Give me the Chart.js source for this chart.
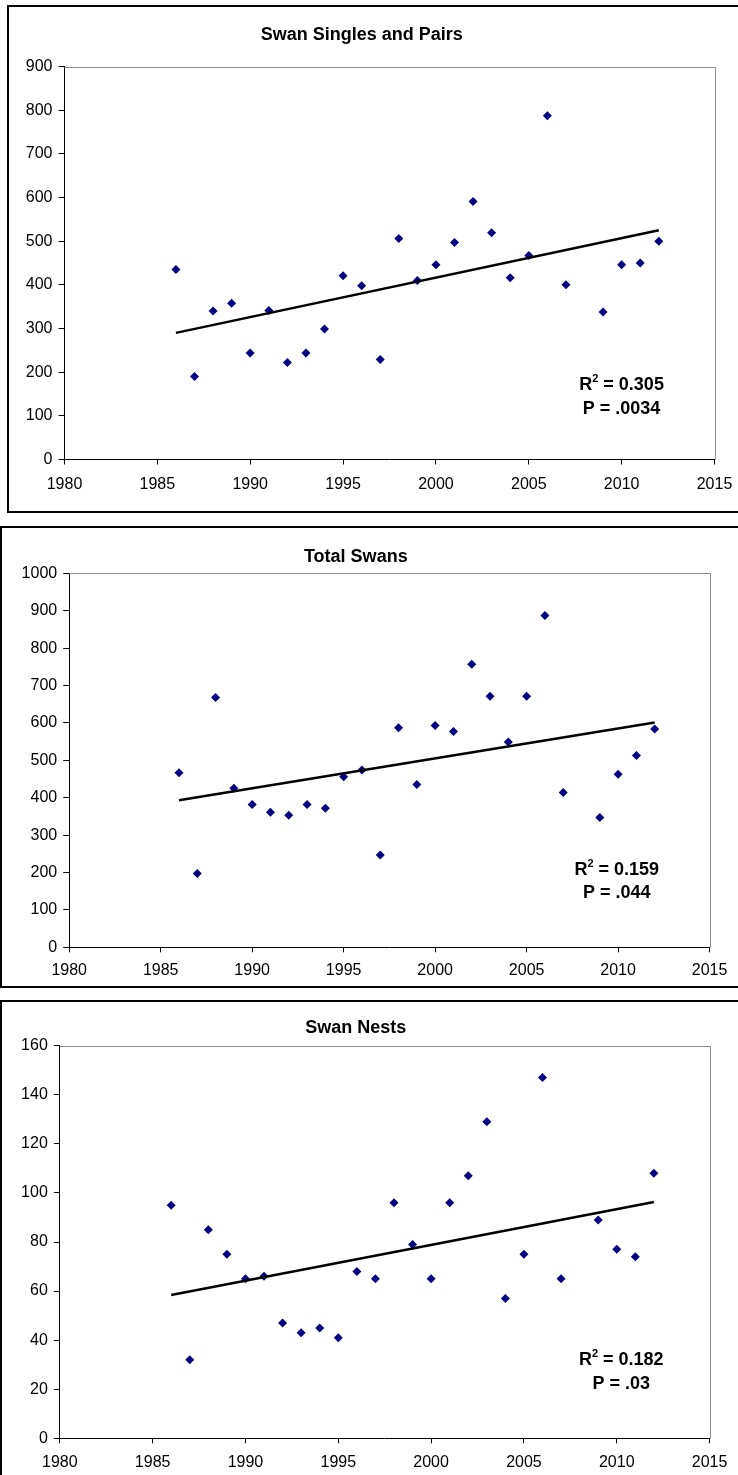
<!DOCTYPE html>
<html>
<head>
<meta charset="utf-8">
<script src="https://cdn.jsdelivr.net/npm/chart.js@4.4.1/dist/chart.umd.min.js"></script>
<style>
  html, body { margin: 0; padding: 0; background: #fff; }
  body { width: 738px; height: 1475px; overflow: hidden; position: relative; }
  .box { position: absolute; border: 2px solid #000; background: #fff; }
  .box div { position: relative; width: 740px; }
</style>
</head>
<body>
<div class="box" style="left:7px; top:5px;"><div style="height:504px;"><canvas id="c1"></canvas></div></div>
<div class="box" style="left:0px; top:526px;"><div style="height:458px;"><canvas id="c2"></canvas></div></div>
<div class="box" style="left:0px; top:1000px;"><div style="height:474px;"><canvas id="c3"></canvas></div></div>
<script>
// survey years (no count in 2008)
const years = [1986, 1987, 1988, 1989, 1990, 1991, 1992, 1993, 1994, 1995, 1996, 1997, 1998,
               1999, 2000, 2001, 2002, 2003, 2004, 2005, 2006, 2007, 2009, 2010, 2011, 2012];

const singlesPairs = [435, 190, 340, 358, 244, 341, 222, 244, 299, 421, 398, 229, 506,
                      410, 446, 497, 591, 519, 416, 467, 787, 400, 338, 446, 450, 500];
const totalSwans = [467, 197, 668, 425, 382, 361, 353, 382, 372, 456, 474, 247, 587,
                    435, 593, 577, 757, 671, 549, 671, 887, 414, 347, 463, 513, 584];
const swanNests = [95, 32, 85, 75, 65, 66, 47, 43, 45, 41, 68, 65, 96,
                   79, 65, 96, 107, 129, 57, 75, 147, 65, 89, 77, 74, 108];

// linear trend lines, end points
const trendYears = [1986, 2012];
const singlesTrend = [290, 525];
const totalTrend = [393, 601];
const nestsTrend = [58.4, 96.3];

const xTicks = [1980, 2015, 5];

const FONT = '"Liberation Sans", Arial, sans-serif';

// grey plot frame on top/right and the R²/P text box
const framePlugin = {
  id: 'frame',
  beforeDatasetsDraw(chart) {
    const a = chart.chartArea, ctx = chart.ctx;
    ctx.save();
    ctx.strokeStyle = '#8c8c8c';
    ctx.lineWidth = 1;
    ctx.beginPath();
    ctx.moveTo(a.left, Math.round(a.top) + 0.5);
    ctx.lineTo(Math.round(a.right) + 0.5, Math.round(a.top) + 0.5);
    ctx.lineTo(Math.round(a.right) + 0.5, a.bottom);
    ctx.stroke();
    ctx.restore();
  },
  afterDatasetsDraw(chart, args, opts) {
    const a = chart.chartArea, ctx = chart.ctx;
    const cx = a.left + opts.fx * (a.right - a.left);
    const y1 = a.top + opts.fy1 * (a.bottom - a.top);
    const y2 = a.top + opts.fy2 * (a.bottom - a.top);
    ctx.save();
    ctx.fillStyle = '#000';
    ctx.textBaseline = 'middle';
    ctx.textAlign = 'left';
    const big = 'bold 18px ' + FONT, small = 'bold 11px ' + FONT;
    ctx.font = big;
    const wR = ctx.measureText('R').width;
    const rest = ' = ' + opts.r2;
    const wRest = ctx.measureText(rest).width;
    ctx.font = small;
    const w2 = ctx.measureText('2').width;
    let x = cx - (wR + w2 + wRest) / 2;
    ctx.font = big;
    ctx.fillText('R', x, y1);
    ctx.font = small;
    ctx.fillText('2', x + wR, y1 - 6);
    ctx.font = big;
    ctx.fillText(rest, x + wR + w2, y1);
    ctx.textAlign = 'center';
    ctx.fillText('P = ' + opts.p, cx, y2);
    ctx.restore();
  }
};

function makeChart(id, cfg) {
  return new Chart(id, {
    type: 'scatter',
    data: {
      datasets: [
        {
          label: 'trend',
          data: trendYears.map((t, i) => ({ x: t, y: cfg.trend[i] })),
          showLine: true,
          borderColor: '#000',
          borderWidth: 2.5,
          pointRadius: 0
        },
        {
          label: cfg.title,
          data: years.map((t, i) => ({ x: t, y: cfg.values[i] })),
          pointStyle: 'rectRot',
          pointRadius: 4.5,
          pointBackgroundColor: '#000080',
          pointBorderColor: '#000080',
          pointBorderWidth: 0
        }
      ]
    },
    options: {
      responsive: true,
      maintainAspectRatio: false,
      animation: false,
      events: [],
      layout: { padding: { left: 0, top: 0, bottom: 0, right: cfg.padRight } },
      plugins: {
        legend: { display: false },
        tooltip: { enabled: false },
        title: {
          display: true,
          text: cfg.title,
          color: '#000',
          font: { family: FONT, size: 18, weight: 'bold', lineHeight: 1.2 },
          padding: { top: cfg.titleTop, bottom: cfg.titleBottom }
        },
        frame: cfg.stats
      },
      scales: {
        x: {
          type: 'linear',
          min: xTicks[0],
          max: xTicks[1],
          afterFit: (s) => { s.height = cfg.xHeight; },
          ticks: {
            stepSize: xTicks[2],
            color: '#000',
            padding: cfg.xPad,
            font: { family: FONT, size: 16 },
            callback: (v) => String(v)
          },
          grid: { drawOnChartArea: false, color: '#000', tickLength: 5 },
          border: { color: '#000', width: 1 }
        },
        y: {
          min: 0,
          max: cfg.yMax,
          afterFit: (s) => { s.width = cfg.yWidth; },
          ticks: {
            stepSize: cfg.yStep,
            color: '#000',
            padding: 6,
            font: { family: FONT, size: 16 },
            callback: (v) => String(v)
          },
          grid: { drawOnChartArea: false, color: '#000', tickLength: 6 },
          border: { color: '#000', width: 1 }
        }
      }
    },
    plugins: [framePlugin]
  });
}

makeChart('c1', {
  title: 'Swan Singles and Pairs', values: singlesPairs, trend: singlesTrend,
  yMax: 900, yStep: 100, yWidth: 55.5, xHeight: 51.5, xPad: 10, padRight: 34.5,
  titleTop: 17.2, titleBottom: 20.7,
  stats: { r2: '0.305', p: '.0034', fx: 0.857, fy1: 0.811, fy2: 0.871 }
});

makeChart('c2', {
  title: 'Total Swans', values: totalSwans, trend: totalTrend,
  yMax: 1000, yStep: 100, yWidth: 67.2, xHeight: 38.7, xPad: 9, padRight: 32.4,
  titleTop: 17.9, titleBottom: 5.8,
  stats: { r2: '0.159', p: '.044', fx: 0.855, fy1: 0.793, fy2: 0.856 }
});

makeChart('c3', {
  title: 'Swan Nests', values: swanNests, trend: nestsTrend,
  yMax: 160, yStep: 20, yWidth: 57.8, xHeight: 37.7, xPad: 9.4, padRight: 32.4,
  titleTop: 14.9, titleBottom: 7.2,
  stats: { r2: '0.182', p: '.03', fx: 0.864, fy1: 0.801, fy2: 0.862 }
});
</script>
</body>
</html>
